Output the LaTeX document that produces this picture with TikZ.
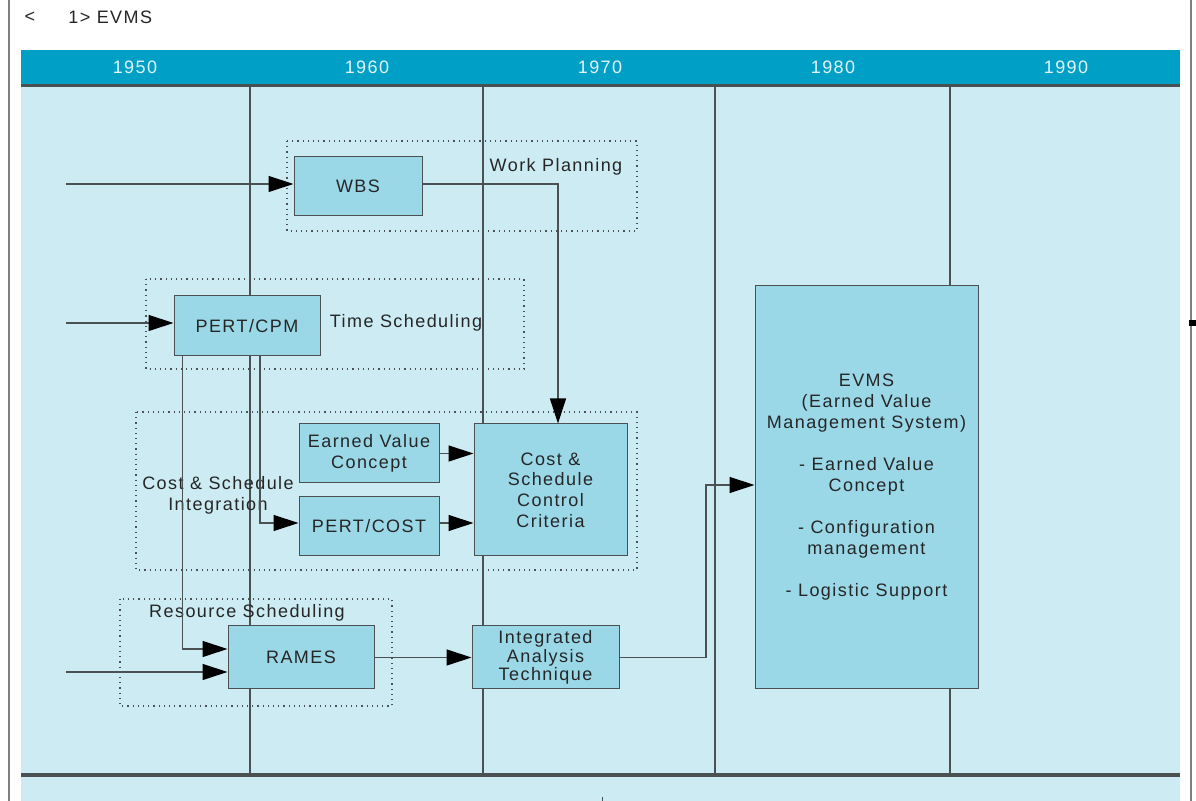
\documentclass[tikz,border=0pt]{standalone}
\usepackage{fontspec}
\setmainfont{Liberation Sans}[LetterSpace=8]
\usetikzlibrary{arrows.meta,positioning}
\definecolor{headblue}{RGB}{0,160,198}
\definecolor{paleblue}{RGB}{204,235,242}
\definecolor{boxblue}{RGB}{154,216,232}
\definecolor{inkgray}{RGB}{75,80,82}
\definecolor{yeartext}{RGB}{228,244,248}
\begin{document}
\begin{tikzpicture}
  [x=0.5pt, y=-0.5pt,
  box/.style={rectangle, draw=inkgray, line width=0.5pt, fill=boxblue, inner sep=0pt, align=center, font=\fontsize{9}{10.5}\selectfont, text=black!85},
  frame/.style={draw=inkgray, dotted, line width=0.6pt},
  lbl/.style={align=center, inner sep=0pt, font=\fontsize{9}{10.5}\selectfont, text=black!85},
  flow/.style={draw=inkgray, line width=0.6pt, -{Triangle[length=12.5pt, width=8pt, color=black]}},
  colline/.style={draw=inkgray, line width=0.7pt},
  year/.style={inner sep=0pt, font=\fontsize{9}{10.5}\selectfont, text=yeartext}]
  \useasboundingbox (0,0) rectangle (1196,801);
  \fill[white] (0,0) rectangle (1196,801);
  \fill[paleblue] (21,84) rectangle (1180,801);
  \fill[headblue] (21,50) rectangle (1180,84);
  \draw[inkgray, line width=1.5pt] (21,85.5) -- (1180,85.5);
  \draw[inkgray, line width=1.8pt] (21,775) -- (1180,775);
  \draw[gray, line width=0.8pt] (9,0) -- (9,801);
  \draw[gray, line width=0.8pt] (1191,0) -- (1191,801);
  \fill[black] (1189,320) rectangle (1196,326);
  \draw[inkgray, line width=0.5pt] (602,797) -- (602,801);
  \node[lbl] (back) at (30,17) {<};
  \node[lbl, anchor=west] (title) at (68,17) {1> EVMS};
  \foreach \yr/\x in {1950/135, 1960/367, 1970/600, 1980/833, 1990/1066}
    \node[year] (y\yr) at (\x,67) {\yr};
  \foreach \x in {250, 483, 715, 950}
    \draw[colline] (\x,87) -- (\x,775);

  \draw[frame] (287,141) rectangle (637,231);
  \draw[frame] (146,279) rectangle (524,369);
  \draw[frame] (136,412) rectangle (637,570);
  \draw[frame] (120,599) rectangle (392,706);
  \node[lbl] (workplan) at (556,167) {Work Planning};
  \node[lbl] (timesched) at (406,323) {Time Scheduling};
  \node[lbl] (costsched) at (218,495) {Cost \& Schedule\\Integration};
  \node[lbl] (ressched) at (247,613) {Resource Scheduling};

  \node[box, minimum width=64pt, minimum height=29.5pt] (wbs) at (358,186.5) {WBS};
  \node[box, minimum width=73pt, minimum height=30pt] (pertcpm) at (247,326) {PERT/CPM};
  \node[box, minimum width=70pt, minimum height=29.5pt] (evconcept) at (369,453.5) {Earned Value\\Concept};
  \node[box, minimum width=70pt, minimum height=29.5pt] (pertcost) at (369,526.5) {PERT/COST};
  \node[box, minimum width=76.5pt, minimum height=66pt, font=\fontsize{9}{10.3}\selectfont] (cscc) at (550.5,490) {Cost \&\\Schedule\\Control\\Criteria};
  \node[box, minimum width=73pt, minimum height=31.5pt] (rames) at (301,657.5) {RAMES};
  \node[box, minimum width=73.5pt, minimum height=31.5pt, font=\fontsize{9}{9.3}\selectfont] (iat) at (545.5,657.5) {Integrated\\Analysis\\Technique};
  \node[box, minimum width=111.5pt, minimum height=201.5pt] (evms) at (866.5,487.5)
    {EVMS\\(Earned Value\\Management System)\\[10.5pt]- Earned Value\\Concept\\[10.5pt]- Configuration\\management\\[10.5pt]- Logistic Support};

  \coordinate (inwbs) at (66,184);
  \coordinate (inpert) at (66,323);
  \coordinate (inrames) at (66,672);
  \coordinate (wbsturn) at (558,184);
  \coordinate (evmsturn) at (706,485);
  \draw[flow] (inwbs) -- (inwbs -| wbs.west);
  \draw[flow] (wbs.east |- wbsturn) -- (wbsturn) -- (wbsturn |- cscc.north);
  \draw[flow] (inpert) -- (inpert -| pertcpm.west);
  \draw[flow] ([xshift=4.5pt]pertcpm.south west) |- ([yshift=4.25pt]rames.west);
  \draw[flow] ([xshift=6.5pt]pertcpm.south) |- ([yshift=1.75pt]pertcost.west);
  \draw[flow] (evconcept) -- (evconcept -| cscc.west);
  \draw[flow] ([yshift=1.75pt]pertcost.east) -- ([yshift=1.75pt]pertcost.east -| cscc.west);
  \draw[flow] (inrames) -- (inrames -| rames.west);
  \draw[flow] (rames) -- (iat);
  \draw[flow] (iat.east) -| (evmsturn) -- (evmsturn -| evms.west);
\end{tikzpicture}
\end{document}
